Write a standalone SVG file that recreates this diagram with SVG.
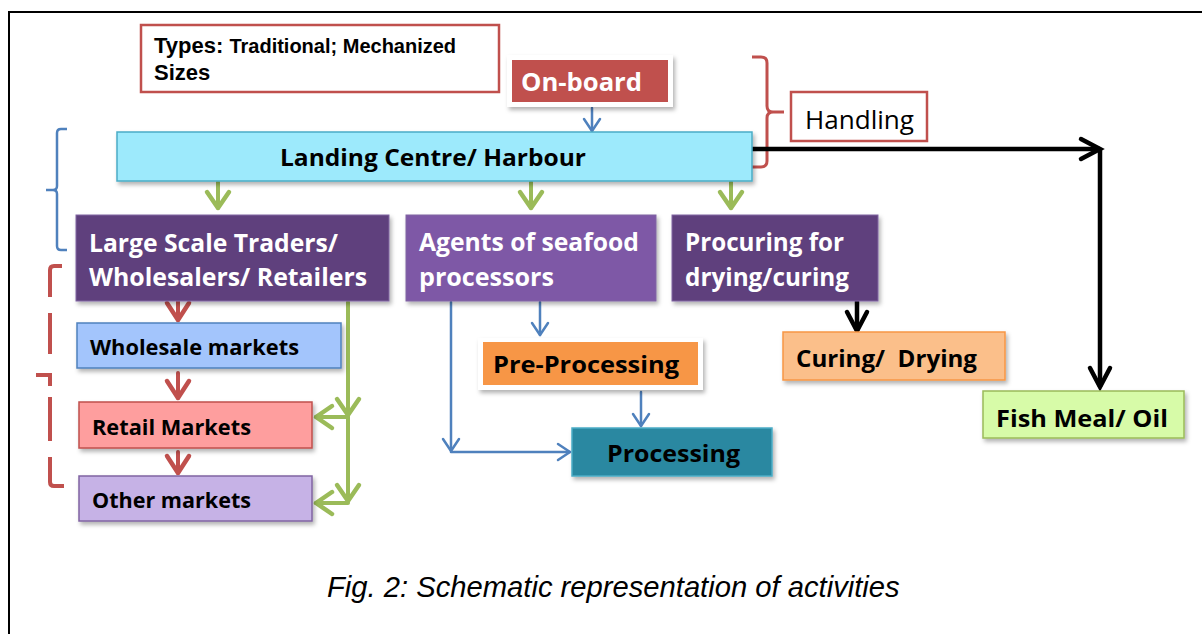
<svg xmlns="http://www.w3.org/2000/svg" width="1202" height="634" viewBox="0 0 1202 634">
  <style>
    .lbl { font-family: "Open Sans", "Noto Sans", sans-serif; font-weight: 700; }
    .w { fill: #ffffff; }
    .k { fill: #000000; }
    .arial { font-family: "Liberation Sans", Arial, sans-serif; }
    .g { fill: none; stroke: #9bbb59; stroke-width: 4; stroke-linecap: round; }
    .r { fill: none; stroke: #c0504d; stroke-width: 4; stroke-linecap: round; }
    .b { fill: none; stroke: #4f81bd; stroke-width: 2.5; stroke-linecap: round; }
    .blk { fill: none; stroke: #000000; stroke-width: 4.5; }
  </style>
  <defs>
    <filter id="shadow" x="-10%" y="-20%" width="130%" height="150%">
      <feDropShadow dx="2" dy="3" stdDeviation="2" flood-color="#000" flood-opacity="0.3"/>
    </filter>
    <marker id="gHead" markerUnits="userSpaceOnUse" viewBox="-20 -15 22 30" refX="0" refY="0" markerWidth="22" markerHeight="30" orient="auto" overflow="visible">
      <path d="M-16,-11 L0,0 L-16,11" fill="none" stroke="#9bbb59" stroke-width="4.5" stroke-linecap="round" stroke-linejoin="round"/>
    </marker>
    <marker id="rHead" markerUnits="userSpaceOnUse" viewBox="-20 -15 22 30" refX="0" refY="0" markerWidth="22" markerHeight="30" orient="auto" overflow="visible">
      <path d="M-17,-11 L0,0 L-17,11" fill="none" stroke="#c0504d" stroke-width="4.5" stroke-linecap="round" stroke-linejoin="round"/>
    </marker>
    <marker id="bHead" markerUnits="userSpaceOnUse" viewBox="-15 -10 17 20" refX="0" refY="0" markerWidth="17" markerHeight="20" orient="auto" overflow="visible">
      <path d="M-12,-8 L0,0 L-12,8" fill="none" stroke="#4f81bd" stroke-width="2.5" stroke-linecap="round" stroke-linejoin="round"/>
    </marker>
    <marker id="kHead" markerUnits="userSpaceOnUse" viewBox="-22 -12 24 24" refX="0" refY="0" markerWidth="24" markerHeight="24" orient="auto" overflow="visible">
      <path d="M-19,-10 L0,0 L-19,10" fill="none" stroke="#000000" stroke-width="4.5" stroke-linecap="round" stroke-linejoin="miter"/>
    </marker>
  </defs>

  <!-- page frame -->
  <path d="M9,634 V12 H1202" fill="none" stroke="#000" stroke-width="2"/>

  <!-- braces -->
  <g id="braces">
    <path d="M752,57 H761 Q767,57 767,63 V106 Q767,112 773,112 H784 M773,112 Q767,112 767,118 V161 Q767,167 761,167 H752" fill="none" stroke="#c0504d" stroke-width="3"/>
    <path d="M67,129 H61 Q57,129 57,133 V186 Q57,190 53,190 H46 M53,190 Q57,190 57,194 V246 Q57,250 61,250 H67" fill="none" stroke="#4f81bd" stroke-width="2.5"/>
    <g fill="none" stroke="#c0504d" stroke-width="4">
      <path d="M62,266 H54 Q50,266 50,270 V297"/>
      <path d="M50,313 V354"/>
      <path d="M36,375 H50 V386"/>
      <path d="M50,397 V441"/>
      <path d="M50,457 V482 Q50,486 54,486 H64"/>
    </g>
  </g>

  <!-- connectors -->
  <g id="connectors">
    <path class="b" d="M592,108 V131" marker-end="url(#bHead)"/>
    <path class="g" d="M218,182 V208" marker-end="url(#gHead)"/>
    <path class="g" d="M531,182 V208" marker-end="url(#gHead)"/>
    <path class="g" d="M731,182 V208" marker-end="url(#gHead)"/>
    <path class="blk" d="M752,149 H1100" marker-end="url(#kHead)"/>
    <path class="blk" d="M1100,149 V387" marker-end="url(#kHead)"/>
    <path class="blk" d="M857,301 V331" marker-end="url(#kHead)"/>
    <path class="r" d="M178,301 V320" marker-end="url(#rHead)"/>
    <path class="r" d="M178,373 V398" marker-end="url(#rHead)"/>
    <path class="r" d="M178,452 V473" marker-end="url(#rHead)"/>
    <path class="g" d="M348,302 V415" marker-end="url(#gHead)"/>
    <path class="g" d="M348,417 V501" marker-end="url(#gHead)"/>
    <path class="g" d="M348,417 H316" marker-end="url(#gHead)"/>
    <path class="g" d="M348,503 H316" marker-end="url(#gHead)"/>
    <path class="b" d="M540,302 V335" marker-end="url(#bHead)"/>
    <path class="b" d="M641,392 V426" marker-end="url(#bHead)"/>
    <path class="b" d="M451,302 V451" marker-end="url(#bHead)"/>
    <path class="b" d="M451,452 H570" marker-end="url(#bHead)"/>
  </g>

  <!-- nodes -->
  <g id="types">
    <rect x="141" y="25" width="358" height="67" fill="#fff" stroke="#c0504d" stroke-width="2.5"/>
    <text class="arial" x="154" y="53" font-size="22" font-weight="700">Types: <tspan font-size="20">Traditional; Mechanized</tspan></text>
    <text class="arial" x="154" y="80" font-size="22" font-weight="700">Sizes</text>
  </g>

  <g id="onboard">
    <rect x="507" y="55" width="166" height="52" fill="#fff" filter="url(#shadow)"/>
    <rect x="512" y="60" width="156" height="42" fill="#c0504d"/>
    <text class="lbl w" x="521" y="91" font-size="25.5" textLength="121" lengthAdjust="spacingAndGlyphs">On-board</text>
  </g>

  <g id="handling">
    <rect x="791" y="92" width="136" height="49" fill="#fff" stroke="#c0504d" stroke-width="2.5"/>
    <text x="805" y="129" font-size="26" font-family="'Open Sans', 'Noto Sans', sans-serif" textLength="109" lengthAdjust="spacingAndGlyphs">Handling</text>
  </g>

  <g id="landing">
    <rect x="117" y="132" width="635" height="49" fill="#9deafc" stroke="#4bacc6" stroke-width="1.5" filter="url(#shadow)"/>
    <text class="lbl k" x="280" y="166" font-size="24" textLength="306" lengthAdjust="spacingAndGlyphs">Landing Centre/ Harbour</text>
  </g>

  <g id="traders">
    <rect x="76" y="215" width="313" height="86" fill="#5e417d" stroke="#8064a2" stroke-width="1" filter="url(#shadow)"/>
    <text class="lbl w" x="89" y="252" font-size="25" textLength="249" lengthAdjust="spacingAndGlyphs">Large Scale Traders/</text>
    <text class="lbl w" x="89" y="286" font-size="25" textLength="278" lengthAdjust="spacingAndGlyphs">Wholesalers/ Retailers</text>
  </g>

  <g id="agents">
    <rect x="406" y="215" width="250" height="86" fill="#7e58a6" stroke="#8064a2" stroke-width="1" filter="url(#shadow)"/>
    <text class="lbl w" x="419" y="251" font-size="25" textLength="220" lengthAdjust="spacingAndGlyphs">Agents of seafood</text>
    <text class="lbl w" x="419" y="286" font-size="25" textLength="135" lengthAdjust="spacingAndGlyphs">processors</text>
  </g>

  <g id="procuring">
    <rect x="672" y="215" width="206" height="86" fill="#5e417d" stroke="#8064a2" stroke-width="1" filter="url(#shadow)"/>
    <text class="lbl w" x="685" y="251" font-size="25" textLength="159" lengthAdjust="spacingAndGlyphs">Procuring for</text>
    <text class="lbl w" x="685" y="286" font-size="25" textLength="164" lengthAdjust="spacingAndGlyphs">drying/curing</text>
  </g>

  <g id="wholesale">
    <rect x="77" y="323" width="264" height="45" fill="#a3c5fc" stroke="#4f81bd" stroke-width="1.5" filter="url(#shadow)"/>
    <text class="lbl k" x="90" y="355" font-size="22" textLength="209" lengthAdjust="spacingAndGlyphs">Wholesale markets</text>
  </g>

  <g id="retail">
    <rect x="79" y="402" width="233" height="46" fill="#fe9e9e" stroke="#c0504d" stroke-width="1.5" filter="url(#shadow)"/>
    <text class="lbl k" x="92" y="435" font-size="22" textLength="159" lengthAdjust="spacingAndGlyphs">Retail Markets</text>
  </g>

  <g id="other">
    <rect x="79" y="476" width="233" height="45" fill="#c6b2e6" stroke="#8064a2" stroke-width="1.5" filter="url(#shadow)"/>
    <text class="lbl k" x="92" y="508" font-size="22" textLength="159" lengthAdjust="spacingAndGlyphs">Other markets</text>
  </g>

  <g id="preprocessing">
    <rect x="478" y="338" width="225" height="52" fill="#fff" filter="url(#shadow)"/>
    <rect x="483" y="342" width="215" height="43" fill="#f79646"/>
    <text class="lbl k" x="493" y="373" font-size="24" textLength="186" lengthAdjust="spacingAndGlyphs">Pre-Processing</text>
  </g>

  <g id="processing">
    <rect x="572" y="428" width="200" height="48" fill="#2b88a1" stroke="#4bacc6" stroke-width="1.5" filter="url(#shadow)"/>
    <text class="lbl k" x="607" y="462" font-size="24" textLength="133" lengthAdjust="spacingAndGlyphs">Processing</text>
  </g>

  <g id="curing">
    <rect x="783" y="332" width="222" height="48" fill="#fbbf8a" stroke="#f79646" stroke-width="1.5" filter="url(#shadow)"/>
    <text class="lbl k" x="796" y="367" font-size="24" xml:space="preserve" textLength="181" lengthAdjust="spacingAndGlyphs">Curing/  Drying</text>
  </g>

  <g id="fishmeal">
    <rect x="983" y="391" width="201" height="47" fill="#d7fba8" stroke="#9bbb59" stroke-width="1.5" filter="url(#shadow)"/>
    <text class="lbl k" x="996" y="427" font-size="24" textLength="172" lengthAdjust="spacingAndGlyphs">Fish Meal/ Oil</text>
  </g>

  <!-- caption -->
  <text class="arial" x="327" y="597" font-size="29.2" font-style="italic">Fig. 2: Schematic representation of activities</text>
</svg>
